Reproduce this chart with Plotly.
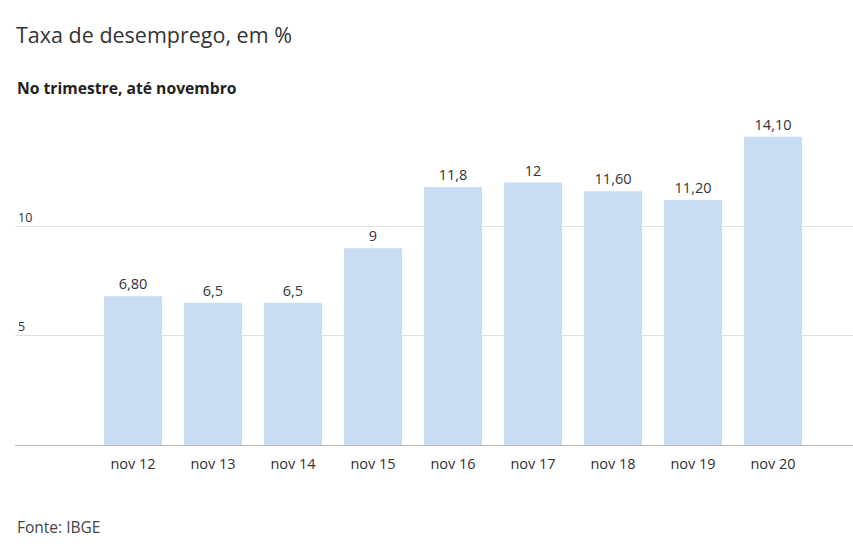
import plotly.graph_objects as go

categories = ["nov 12", "nov 13", "nov 14", "nov 15", "nov 16", "nov 17", "nov 18", "nov 19", "nov 20"]
values = [6.80, 6.5, 6.5, 9, 11.8, 12, 11.60, 11.20, 14.10]
value_labels = ["6,80", "6,5", "6,5", "9", "11,8", "12", "11,60", "11,20", "14,10"]
y_ticks = [5, 10]
y_tick_labels = ["5", "10"]

FONT = "Open Sans"

fig = go.Figure(go.Bar(
    x=list(range(len(categories))),
    y=values,
    text=value_labels,
    textposition="outside",
    cliponaxis=False,
    textfont=dict(family=FONT, size=14.5, color="#333333"),
    marker=dict(color="#c8dcf3", line=dict(width=0)),
    hoverinfo="skip",
))

fig.update_layout(
    width=853, height=551,
    margin=dict(l=15, r=0, t=117, b=106),
    plot_bgcolor="white", paper_bgcolor="white",
    bargap=0.275,
    showlegend=False,
    font=dict(family=FONT, color="#333333"),
    title=dict(
        text="Taxa de desemprego, em %",
        x=16/853, xanchor="left", xref="container",
        y=1 - 35/551, yanchor="middle", yref="container",
        font=dict(family=FONT, size=21.5, color="#333333"),
    ),
    annotations=[
        dict(text="<b>No trimestre, até novembro</b>", xref="paper", yref="paper",
             x=0, y=1 + (117 - 88) / 328, xanchor="left", yanchor="middle",
             showarrow=False, font=dict(family=FONT, size=15.7, color="#222222")),
        dict(text="Fonte: IBGE", xref="paper", yref="paper",
             x=0, y=-(527 - 445) / 328, xanchor="left", yanchor="middle",
             showarrow=False, font=dict(family=FONT, size=15.5, color="#444444")),
    ],
)

fig.update_xaxes(
    range=[-1.475, 9.0],
    tickmode="array", tickvals=list(range(len(categories))), ticktext=categories,
    tickfont=dict(family=FONT, size=14.5, color="#333333"),
    showgrid=False, showline=True, linecolor="#bbbbbb", linewidth=1,
    ticks="", ticklen=0, ticklabelstandoff=6,
    fixedrange=True,
)
fig.update_yaxes(
    range=[0, 15],
    tickmode="array", tickvals=y_ticks, ticktext=y_tick_labels,
    ticklabelposition="inside top",
    tickfont=dict(family=FONT, size=12.5, color="#333333"),
    showgrid=True, gridcolor="#e0e0e0", gridwidth=1,
    zeroline=False, showline=False, ticks="",
    fixedrange=True,
)

fig.write_html("out.html")
